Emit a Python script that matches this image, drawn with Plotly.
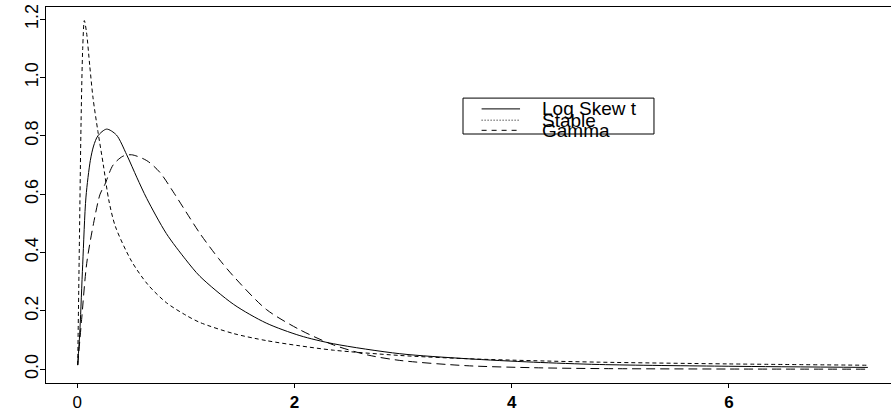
import plotly.graph_objects as go

# ---- data ----
x_logskewt = [0.004, 0.025, 0.05, 0.08, 0.12, 0.15, 0.19, 0.27, 0.36, 0.455, 0.55, 0.64,
              0.82, 1.0, 1.13, 1.44, 1.74, 2.05, 2.36, 2.97, 3.58, 4.2, 4.81, 6.0, 7.28]
y_logskewt = [0.014, 0.14, 0.36, 0.59, 0.715, 0.765, 0.80, 0.823, 0.803, 0.735, 0.656, 0.585,
              0.465, 0.375, 0.318, 0.222, 0.158, 0.115, 0.087, 0.053, 0.036, 0.024, 0.016, 0.010, 0.006]

x_stable = [0.004, 0.02, 0.035, 0.05, 0.065, 0.085, 0.115, 0.145, 0.19, 0.24, 0.29, 0.35,
            0.5, 0.65, 0.82, 1.0, 1.13, 1.44, 1.74, 2.05, 2.36, 2.97, 3.58, 4.2, 4.81, 6.0, 7.28]
y_stable = [0.014, 0.45, 0.85, 1.10, 1.195, 1.155, 1.04, 0.93, 0.815, 0.70, 0.58, 0.49,
            0.37, 0.29, 0.228, 0.185, 0.16, 0.122, 0.098, 0.08, 0.065, 0.047, 0.036, 0.029, 0.024, 0.018, 0.0135]

x_gamma = [0.004, 0.04, 0.087, 0.15, 0.21, 0.255, 0.33, 0.42, 0.50, 0.64, 0.76, 0.88, 1.0,
           1.13, 1.3, 1.44, 1.74, 2.05, 2.36, 2.67, 2.97, 3.58, 4.2, 4.81, 6.0, 7.28]
y_gamma = [0.014, 0.17, 0.363, 0.50, 0.60, 0.634, 0.70, 0.73, 0.735, 0.715, 0.675, 0.61, 0.54,
           0.465, 0.38, 0.318, 0.205, 0.135, 0.083, 0.049, 0.030, 0.012, 0.005, 0.002, 0.0005, 0.0]

series_names = ["Log Skew t", "Stable", "Gamma"]
x_ticks = [0, 2, 4, 6]
x_tick_text = ["0", "<b>2</b>", "<b>4</b>", "<b>6</b>"]
y_ticks = [0.0, 0.2, 0.4, 0.6, 0.8, 1.0, 1.2]
y_tick_text = ["0.0", "0.2", "0.4", "0.6", "0.8", "1.0", "1.2"]

FONT = "Liberation Sans"
trace_dash = ["solid", "4px,3px", "9px,5px"]
legend_dash = ["solid", "1px,2px", "5px,5px"]

fig = go.Figure()
for xs, ys, name, dash in zip([x_logskewt, x_stable, x_gamma],
                              [y_logskewt, y_stable, y_gamma],
                              series_names, trace_dash):
    fig.add_trace(go.Scatter(x=xs, y=ys, mode="lines", name=name,
                             line=dict(color="black", width=1, dash=dash,
                                       shape="spline", smoothing=0.8),
                             showlegend=False))

# manual legend (paper coordinates)
bx0, bx1, by0, by1 = 0.4935, 0.7195, 0.6622, 0.7577
fig.add_shape(type="rect", xref="paper", yref="paper", x0=bx0, x1=bx1, y0=by0, y1=by1,
              line=dict(color="black", width=1), fillcolor="white")
row_y = [0.729, 0.699, 0.672]
for name, dash, ry in zip(series_names, legend_dash, row_y):
    fig.add_shape(type="line", xref="paper", yref="paper",
                  x0=0.5155, x1=0.561, y0=ry, y1=ry,
                  line=dict(color="black", width=1, dash=dash))
    fig.add_annotation(xref="paper", yref="paper", x=0.5845, y=ry, text=name,
                       showarrow=False, xanchor="left", yanchor="middle",
                       font=dict(family=FONT, size=19, color="black"))

fig.update_layout(
    width=891, height=412,
    margin=dict(l=46, r=0, t=7, b=24),
    paper_bgcolor="white", plot_bgcolor="white",
    font=dict(family=FONT, color="black"),
)
fig.update_xaxes(range=[-0.288, 7.493], showgrid=False, zeroline=False,
                 showline=True, linecolor="black", linewidth=1, mirror=True,
                 ticks="outside", ticklen=4, tickcolor="black", tickwidth=1,
                 tickvals=x_ticks, ticktext=x_tick_text,
                 tickfont=dict(family=FONT, size=17, color="black"))
fig.update_yaxes(range=[-0.0474, 1.2416], showgrid=False, zeroline=False,
                 showline=True, linecolor="black", linewidth=1, mirror=False,
                 ticks="outside", ticklen=5, tickcolor="black", tickwidth=1,
                 tickvals=y_ticks, ticktext=y_tick_text, tickangle=-90,
                 ticklabelstandoff=-5,
                 tickfont=dict(family=FONT, size=18, color="black"))

fig.write_html("out.html")
